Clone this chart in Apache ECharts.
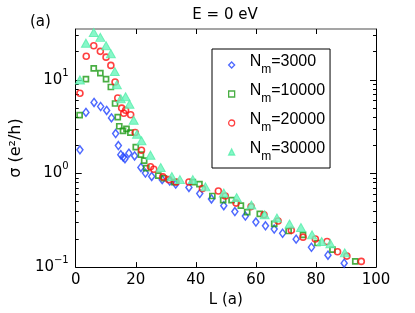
<!DOCTYPE html>
<html><head><meta charset="utf-8">
<script src="https://cdn.jsdelivr.net/npm/echarts@6/dist/echarts.min.js"></script>
<style>html,body{margin:0;padding:0;background:#fff}#c{width:415px;height:313px}</style>
</head><body><div id="c"></div>
<script>
const L3000 = [1.4, 3.4, 6.1, 8.3, 10.3, 11.9, 13.3, 14.2, 15.0, 15.8, 16.4, 17.7, 19.6, 21.7, 23.2, 25.3, 28.8, 31.3, 33.3, 37.7, 41.3, 45.2, 49.3, 53.0, 56.5, 60.0, 63.2, 66.1, 68.9, 73.4, 78.5, 84.0, 89.4];
const S3000 = [1.79, 4.5, 5.75, 5.2, 4.72, 3.93, 2.67, 1.99, 1.59, 1.50, 1.44, 1.65, 1.54, 1.16, 1.01, 0.93, 0.86, 0.83, 0.77, 0.71, 0.61, 0.535, 0.453, 0.392, 0.351, 0.303, 0.276, 0.255, 0.230, 0.199, 0.163, 0.134, 0.110];
const L10000 = [1.3, 3.4, 6.0, 8.2, 10.1, 11.7, 13.1, 14.0, 14.5, 15.75, 16.9, 18.2, 20.0, 21.7, 22.8, 23.5, 27.5, 29.4, 32.8, 39.0, 41.2, 45.5, 49.1, 51.9, 55.0, 57.1, 61.3, 66.1, 70.9, 75.7, 80.5, 85.5, 93.1];
const S10000 = [4.2, 10.2, 13.3, 11.8, 10.2, 8.4, 5.6, 4.0, 3.2, 2.85, 3.0, 2.74, 1.91, 1.59, 1.37, 1.14, 0.95, 0.89, 0.81, 0.81, 0.77, 0.575, 0.52, 0.52, 0.453, 0.386, 0.371, 0.289, 0.243, 0.221, 0.181, 0.154, 0.115];
const L20000 = [1.4, 3.5, 6.0, 8.2, 10.1, 11.7, 13.1, 14.0, 15.3, 16.0, 16.6, 18.3, 19.8, 21.9, 24.9, 26.0, 29.0, 31.0, 33.4, 37.7, 42.2, 47.5, 49.8, 53.4, 58.4, 62.7, 67.4, 71.8, 75.7, 79.8, 83.7, 87.2, 90.3, 95.1];
const S20000 = [7.2, 17.9, 23.2, 20.2, 17.5, 14.3, 9.5, 6.4, 5.0, 4.4, 4.75, 4.25, 2.74, 1.77, 1.18, 1.11, 0.92, 0.86, 0.81, 0.81, 0.69, 0.65, 0.575, 0.483, 0.443, 0.363, 0.311, 0.247, 0.209, 0.20, 0.188, 0.146, 0.131, 0.115];
const L30000 = [1.4, 3.4, 6.0, 8.2, 10.1, 11.7, 13.0, 13.7, 15.0, 16.6, 17.9, 19.3, 20.4, 21.9, 24.9, 28.3, 32.0, 34.7, 39.0, 43.2, 49.3, 53.6, 58.5, 62.9, 67.0, 71.2, 75.0, 78.7, 81.9, 84.8, 89.6];
const S30000 = [10.0, 24.7, 32.1, 28.5, 23.2, 19.0, 12.3, 8.9, 6.3, 6.6, 5.5, 3.7, 2.63, 2.24, 1.57, 1.16, 0.93, 0.86, 0.86, 0.72, 0.62, 0.553, 0.461, 0.363, 0.334, 0.289, 0.265, 0.221, 0.188, 0.178, 0.142];
const seriesNames = ['3000', '10000', '20000', '30000'];
const yMajor = [0.1, 1, 10];
const yMinor = [0.2, 0.3, 0.4, 0.5, 0.6, 0.7, 0.8, 0.9, 2, 3, 4, 5, 6, 7, 8, 9, 20, 30];

const zip = (a, b) => a.map((v, i) => [v, b[i]]);
const font = 'DejaVu Sans';
const chart = echarts.init(document.getElementById('c'), null, {renderer: 'canvas'});

function yAx(pos, major, show) {
  return {
    type: 'log', logBase: 10, min: 0.1, max: 35, position: pos,
    axisLine: {show: show, lineStyle: {color: '#000', width: 1}},
    axisTick: {show: true, inside: true, length: major ? 6 : 3, customValues: major ? yMajor : yMinor, lineStyle: {color: '#000'}},
    axisLabel: {show: false},
    splitLine: {show: false}, minorTick: {show: false}
  };
}
const leftMajor = yAx('left', true, true);
leftMajor.axisLabel = {
  show: true, customValues: yMajor, margin: 7, color: '#000',
  formatter: v => {
    const e = Math.round(Math.log10(v));
    return '{b|10}{s|' + (e < 0 ? '\u2212' + (-e) : e) + '}';
  },
  rich: {
    b: {fontFamily: font, fontSize: 15, lineHeight: 24, color: '#000'},
    s: {fontFamily: font, fontSize: 10, lineHeight: 12, verticalAlign: 'top', color: '#000'}
  }
};
leftMajor.name = 'σ (e²/h)';
leftMajor.nameLocation = 'middle';
leftMajor.nameRotate = 90;
leftMajor.nameGap = 28;
leftMajor.nameTextStyle = {fontFamily: font, fontSize: 16, color: '#000'};

const option = {
  animation: false,
  backgroundColor: '#fff',
  title: [
    {text: 'E = 0 eV', left: 220, top: 3, textAlign: 'center', textStyle: {fontFamily: font, fontSize: 15, fontWeight: 'normal', color: '#000'}},
    {text: '(a)', left: 25, top: 10, textStyle: {fontFamily: font, fontSize: 15, fontWeight: 'normal', color: '#000'}}
  ],
  grid: {left: 63, right: 39, top: 29, bottom: 40, containLabel: false},
  xAxis: [
    {type: 'value', min: 0, max: 100, interval: 20, position: 'bottom',
     axisLine: {lineStyle: {color: '#000', width: 1}},
     axisTick: {inside: true, length: 5, lineStyle: {color: '#000'}},
     axisLabel: {margin: 6, color: '#000', fontFamily: font, fontSize: 15},
     splitLine: {show: false},
     name: 'L (a)', nameLocation: 'middle', nameGap: 22,
     nameTextStyle: {fontFamily: font, fontSize: 15, color: '#000'}},
    {type: 'value', min: 0, max: 100, interval: 20, position: 'top',
     axisLine: {lineStyle: {color: '#888', width: 1.5}},
     axisTick: {inside: true, length: 5, lineStyle: {color: '#000'}},
     axisLabel: {show: false}, splitLine: {show: false}}
  ],
  yAxis: [leftMajor, yAx('left', false, false), yAx('right', true, true), yAx('right', false, false)],
  legend: {
    orient: 'vertical', left: 212, top: 49,
    padding: [5, 5, 5, 16], itemGap: 7, itemWidth: 6, itemHeight: 6,
    borderColor: '#000', borderWidth: 1, backgroundColor: '#fff',
    itemStyle: {borderWidth: 1.3},
    data: seriesNames.map(n => 'N_m=' + n),
    formatter: name => '{sp| }{n|N}{m|m}{n|=' + name.split('=')[1] + '}',
    textStyle: {
      rich: {
        sp: {width: 10, lineHeight: 22},
        n: {fontFamily: 'Liberation Sans', fontSize: 16, lineHeight: 8, verticalAlign: 'top', color: '#000'},
        m: {fontFamily: 'Liberation Sans', fontSize: 12, lineHeight: 12, verticalAlign: 'bottom', color: '#000'}
      }
    }
  },
  series: [
    {name: 'N_m=3000', type: 'scatter', data: zip(L3000, S3000), symbol: 'diamond', symbolSize: [6, 8],
     itemStyle: {color: 'rgba(255,255,255,0)', borderColor: '#2244ff', borderWidth: 1.5}},
    {name: 'N_m=10000', type: 'scatter', data: zip(L10000, S10000), symbol: 'rect', symbolSize: 5,
     itemStyle: {color: 'rgba(255,255,255,0)', borderColor: '#1c9a14', borderWidth: 1.7}},
    {name: 'N_m=20000', type: 'scatter', data: zip(L20000, S20000), symbol: 'circle', symbolSize: 6,
     itemStyle: {color: 'rgba(255,255,255,0)', borderColor: '#ff1010', borderWidth: 1.6}},
    {name: 'N_m=30000', type: 'scatter', data: zip(L30000, S30000), symbol: 'triangle', symbolSize: [9, 8],
     itemStyle: {color: '#6af5bc', borderColor: '#55eeaa', borderWidth: 1}}
  ]
};
chart.setOption(option);
</script></body></html>
